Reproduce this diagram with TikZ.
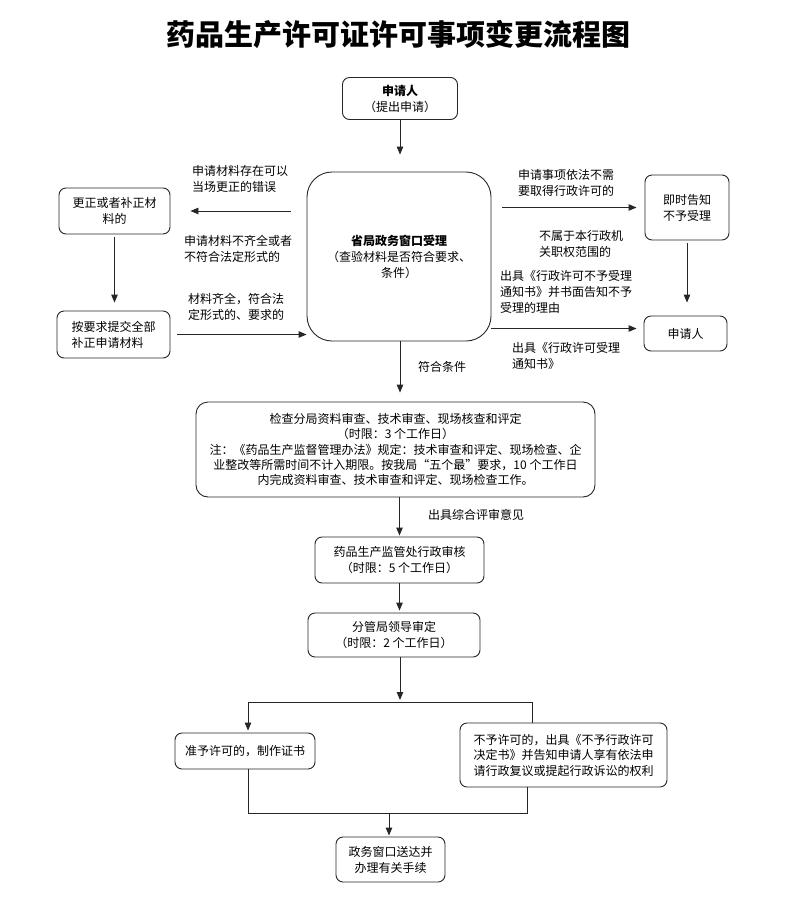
\documentclass[tikz,border=0pt]{standalone}
\usepackage{fontspec}
\setmainfont{Noto Sans CJK SC}
\usetikzlibrary{arrows.meta,calc}
\tikzset{
  box/.style={draw=black!85, line width=0.9pt, rounded corners=7pt, inner sep=0pt, align=center, font=\fontsize{12pt}{16pt}\selectfont},
  lab/.style={align=left, anchor=west, inner sep=0pt, font=\fontsize{12pt}{16pt}\selectfont},
  arr/.style={draw=black!85, line width=0.9pt, -{Triangle[length=8pt,width=6.5pt]}},
  ln/.style={draw=black!85, line width=0.9pt}
}
\begin{document}
\begin{tikzpicture}[x=1pt,y=-1pt]
\useasboundingbox (0,0) rectangle (793,903);
\node[font=\fontsize{29pt}{32pt}\selectfont\bfseries, inner sep=0pt] (title) at (398,35) {药品生产许可证许可事项变更流程图};
% boxes
\node[box, minimum width=115pt, minimum height=42pt] (app) at (400,98.5) {{\bfseries 申请人}\\（提出申请）};
\node[box, rounded corners=25pt, minimum width=184pt, minimum height=169pt] (cen) at (399,256.5) {{\bfseries 省局政务窗口受理}\\（查验材料是否符合要求、\\条件）};
\node[box, minimum width=111pt, minimum height=46pt] (l1) at (114.5,211) {更正或者补正材\\料的};
\node[box, minimum width=113pt, minimum height=47pt, align=left] (l2) at (113.5,334.5) {按要求提交全部\\补正申请材料};
\node[box, minimum width=84pt, minimum height=65pt] (r1) at (687,207.5) {即时告知\\不予受理};
\node[box, minimum width=83pt, minimum height=35pt] (r2) at (685.5,333.5) {申请人};
\node[box, rounded corners=12pt, minimum width=399pt, minimum height=95pt, font=\fontsize{12pt}{15.4pt}\selectfont] (chk) at (395.5,449.5) {检查分局资料审查、技术审查、现场核查和评定\\（时限：3 个工作日）\\注：《药品生产监督管理办法》规定：技术审查和评定、现场检查、企\\业整改等所需时间不计入期限。按我局“五个最”要求，10 个工作日\\内完成资料审查、技术审查和评定、现场检查工作。};
\node[box, minimum width=169pt, minimum height=46pt] (sup) at (399.5,560) {药品生产监管处行政审核\\（时限：5 个工作日）};
\node[box, minimum width=172pt, minimum height=44pt] (lead) at (394,635) {分管局领导审定\\（时限：2 个工作日）};
\node[box, minimum width=140pt, minimum height=36pt] (yes) at (245,751) {准予许可的，制作证书};
\node[box, minimum width=207pt, minimum height=64pt, align=left, font=\fontsize{12pt}{15.5pt}\selectfont] (no) at (563.5,755) {不予许可的，出具《不予行政许可\\决定书》并告知申请人享有依法申\\请行政复议或提起行政诉讼的权利};
\node[box, minimum width=109pt, minimum height=45pt] (fin) at (390.5,859.5) {政务窗口送达并\\办理有关手续};
% labels
\node[lab] (t1) at (192,179) {申请材料存在可以\\当场更正的错误};
\node[lab] (t2) at (184,249) {申请材料不齐全或者\\不符合法定形式的};
\node[lab] (t3) at (188,307) {材料齐全，符合法\\定形式的、要求的};
\node[lab] (t4) at (518,182.5) {申请事项依法不需\\要取得行政许可的};
\node[lab] (t5) at (539,244) {不属于本行政机\\关职权范围的};
\node[lab] (t6) at (500,292) {出具《行政许可不予受理\\通知书》并书面告知不予\\受理的理由};
\node[lab] (t7) at (512,355.5) {出具《行政许可受理\\通知书》};
\node[lab] (t8) at (418,367) {符合条件};
\node[lab] (t9) at (428,515) {出具综合评审意见};
% junction coordinates
\coordinate (j1) at (248,702);
\coordinate (j2) at (532,702);
\coordinate (j3) at (400,702);
\coordinate (m1) at (248,813);
\coordinate (m2) at (527,813);
\coordinate (m3) at (389,813);
\coordinate (r2in) at ([yshift=5pt]r2.west);
% connectors
\draw[arr, shorten >=17pt] (app.south) -- (app.south |- cen.north);
\draw[arr, shorten <=16pt, shorten >=20pt] (l1.east -| cen.west) -- (l1.east);
\draw[arr, shorten <=3pt, shorten >=8pt] (l1.south) -- (l1.south |- l2.north);
\draw[arr, shorten <=7pt] (l2.east) -- (l2.east -| cen.west);
\draw[arr, shorten <=11pt, shorten >=8pt] (r1.west -| cen.east) -- (r1.west);
\draw[arr, shorten >=7pt] (r2in -| cen.east) -- (r2in);
\draw[arr, shorten <=3pt, shorten >=13pt] (r1.south) -- (r1.south |- r2.north);
\draw[arr, shorten >=9pt] (app.south |- cen.south) -- (app.south |- chk.north);
\draw[arr, shorten >=1pt] (sup.north |- chk.south) -- (sup.north);
\draw[arr, shorten >=2pt] (sup.south) -- (sup.south |- lead.north);
\draw[arr, shorten >=2pt] (app.south |- lead.south) -- (j3);
\draw[ln] (j1) -- (j2);
\draw[arr, shorten >=2pt] (j1) -- (j1 |- yes.north);
\draw[ln] (j2) -- (j2 |- no.north);
\draw[ln] (m1 |- yes.south) -- (m1) -- (m2) -- (m2 |- no.south);
\draw[arr, shorten >=1pt] (m3) -- (m3 |- fin.north);
\end{tikzpicture}
\end{document}
